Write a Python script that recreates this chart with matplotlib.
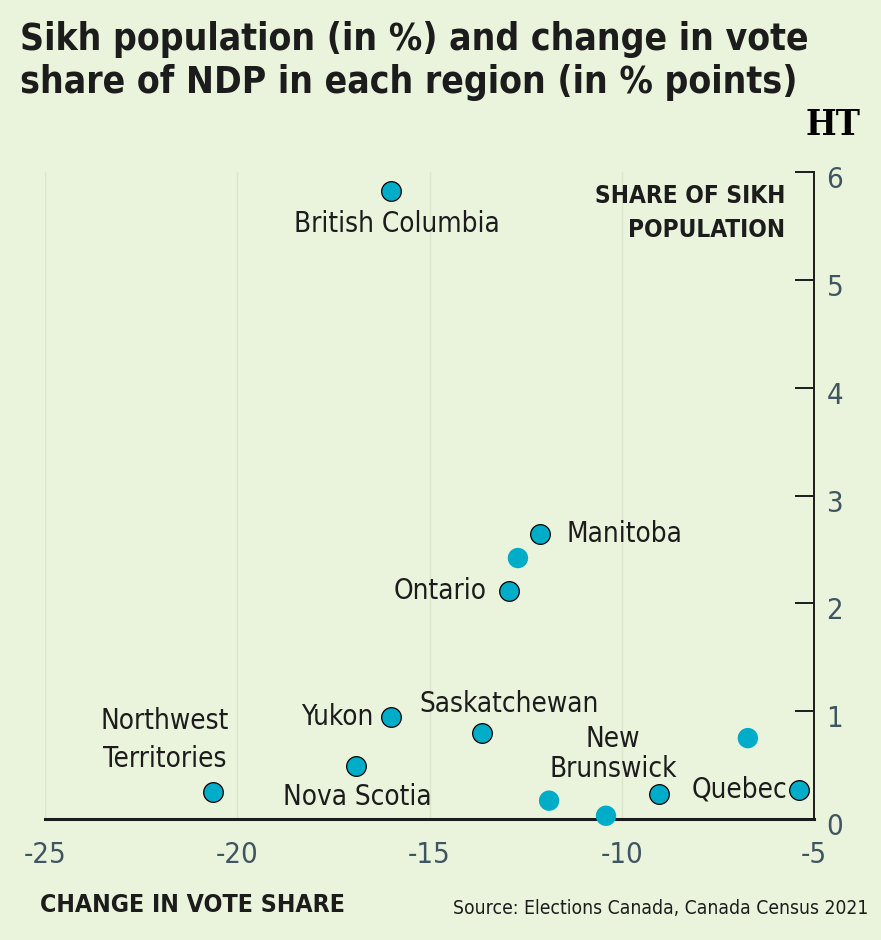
import matplotlib
matplotlib.use('Agg')
import matplotlib.pyplot as plt
import matplotlib.transforms as mtransforms

plt.rcParams['font.family'] = ['DejaVu Sans']
plt.rcParams['font.stretch'] = 'condensed'

# data
regions = ['British Columbia', 'Manitoba', '', 'Ontario', 'Yukon', 'Saskatchewan',
           'Nova Scotia', 'Northwest\nTerritories', '', '', 'New\nBrunswick', '', 'Quebec']
vote_change = [-16.0, -12.13, -12.70, -12.93, -16.0, -13.63,
               -16.91, -20.63, -11.89, -10.41, -9.03, -6.72, -5.39]
sikh_share = [5.82, 2.64, 2.42, 2.11, 0.95, 0.80,
              0.49, 0.25, 0.17, 0.03, 0.23, 0.75, 0.27]
x_ticks = [-25, -20, -15, -10, -5]
y_ticks = [0, 1, 2, 3, 4, 5, 6]

# label offsets in pixels (dx, dy, ha, linespacing)
label_pos = {
    'British Columbia': (6, -33, 'center', 1.0),
    'Manitoba': (27, 0, 'left', 1.0),
    'Ontario': (-22, 0, 'right', 1.0),
    'Yukon': (-18, 0, 'right', 1.0),
    'Saskatchewan': (27, 29, 'center', 1.0),
    'Nova Scotia': (1, -31, 'center', 1.0),
    'Northwest\nTerritories': (-48, 52, 'center', 1.42),
    'New\nBrunswick': (-46, 40, 'center', 1.08),
    'Quebec': (-12, 0, 'right', 1.0),
}

bg = '#eaf3db'
dot = '#00adc9'
ink = '#1c1c1c'
tick_col = '#3f5561'

fig = plt.figure(figsize=(8.81, 9.40), dpi=100, facecolor=bg)
ax = fig.add_axes([45 / 881, 1 - 819 / 940, 769 / 881, 647 / 940])
ax.set_facecolor(bg)

for name, x, y in zip(regions, vote_change, sikh_share):
    if name:
        ax.scatter(x, y, s=200, color=dot, edgecolor='black', linewidth=0.9, zorder=3, clip_on=False)
        dx, dy, ha, ls = label_pos[name]
        ax.annotate(name, (x, y), xytext=(dx, dy), textcoords='offset pixels',
                    ha=ha, va='center', fontsize=20, color=ink, linespacing=ls)
    else:
        ax.scatter(x, y, s=215, color=dot, edgecolor='none', zorder=3, clip_on=False)

ax.set_xlim(-25, -5)
ax.set_ylim(0, 6)
ax.set_xticks(x_ticks)
ax.set_yticks(y_ticks)
ax.set_xticklabels([str(v) for v in x_ticks])
ax.set_yticklabels([str(v) for v in y_ticks])

for v in x_ticks[:-1]:
    ax.axvline(v, color='#dbe5cc', linewidth=1, zorder=0)

for side in ['top', 'left']:
    ax.spines[side].set_visible(False)
ax.spines['bottom'].set_linewidth(2.2)
ax.spines['right'].set_linewidth(1.4)
ax.spines['bottom'].set_color(ink)
ax.spines['right'].set_color(ink)

ax.yaxis.tick_right()
ax.tick_params(axis='y', direction='in', length=14, width=1.4, color=ink, pad=9,
               labelsize=21, labelcolor=tick_col)
ax.tick_params(axis='x', length=0, pad=16, labelsize=21, labelcolor=tick_col)

# y labels sit a little below their ticks
shift = mtransforms.ScaledTranslation(0, -5 / 100, fig.dpi_scale_trans)
for lbl in ax.get_yticklabels():
    lbl.set_transform(lbl.get_transform() + shift)

fig.text(20 / 881, 1 - 21 / 940, 'Sikh population (in %) and change in vote\nshare of NDP in each region (in % points)',
         ha='left', va='top', fontsize=26.7, fontweight='bold', color=ink, linespacing=1.2)
fig.text(833 / 881, 1 - 125 / 940, 'HT', ha='center', va='center', fontsize=26,
         fontweight='bold', family='DejaVu Serif', color='black')
fig.text(785 / 881, 1 - 184 / 940, 'SHARE OF SIKH\nPOPULATION', ha='right', va='top',
         fontsize=17.5, fontweight='bold', color=ink, linespacing=1.55)
fig.text(40 / 881, 1 - 905 / 940, 'CHANGE IN VOTE SHARE', ha='left', va='center',
         fontsize=17.8, fontweight='bold', color=ink)
fig.text(868 / 881, 1 - 909 / 940, 'Source: Elections Canada, Canada Census 2021', ha='right',
         va='center', fontsize=13.9, color=ink)

fig.savefig('out.png', dpi=100, facecolor=bg)
